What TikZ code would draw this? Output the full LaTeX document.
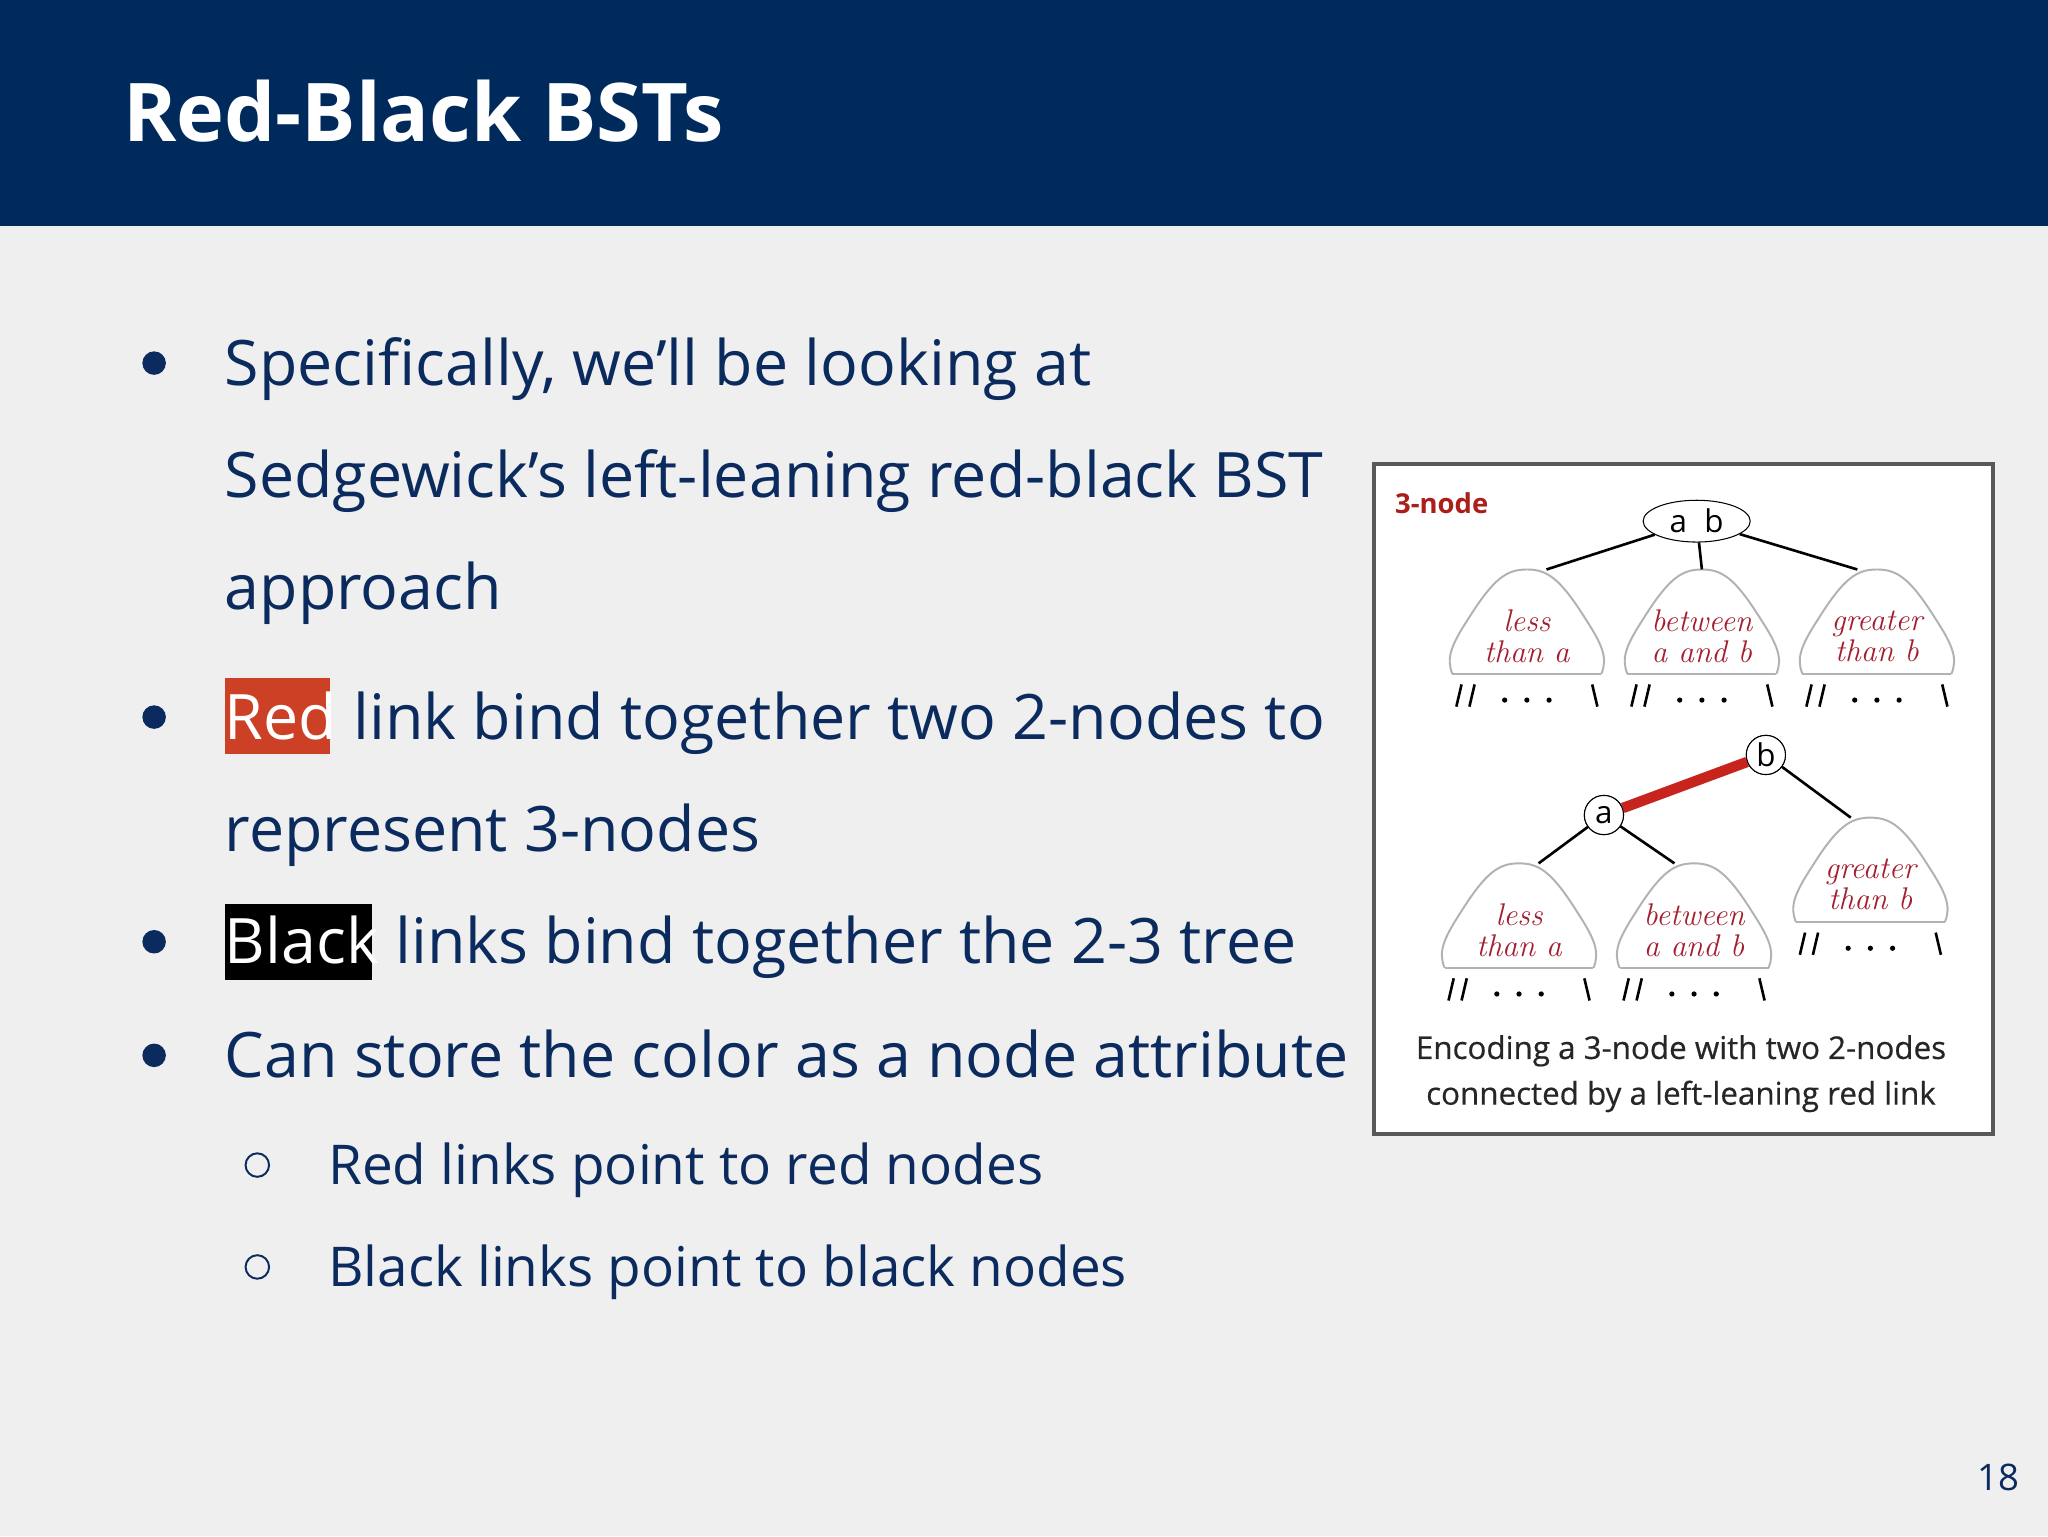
\documentclass[tikz,border=0pt]{standalone}
\usepackage{fontspec}
\usetikzlibrary{shapes.geometric}
\setmainfont{Open Sans}
\newfontfamily\serif{Latin Modern Roman}
\definecolor{navy}{HTML}{002A5C}
\definecolor{txt}{HTML}{0B2B5E}
\definecolor{bg}{HTML}{EFEFEF}
\definecolor{hred}{HTML}{CC4125}
\definecolor{dred}{HTML}{A31F2F}
\definecolor{lred}{HTML}{C8241E}
\tikzset{x=1pt,y=-1pt,
 body/.style={anchor=base west,inner sep=0,text=txt,font=\fontsize{48}{50}\selectfont},
 sub/.style={anchor=base west,inner sep=0,text=txt,font=\fontsize{42}{44}\selectfont},
 blab/.style={align=center,text=dred,font=\serif\itshape\fontsize{24}{24}\selectfont},
 kn/.style={draw,thick,fill=white,inner sep=2pt,font=\fontsize{24}{24}\selectfont},
 edge/.style={line width=2pt}}
\newcommand{\blob}[4]{% name, x, y, label
 \fill[white] (#2-57,#3+32) .. controls (#2-62,#3+20) and (#2-58,#3+10) .. (#2-45,#3-10) .. controls (#2-25,#3-42) and (#2-15,#3-48) .. (#2,#3-48) .. controls (#2+15,#3-48) and (#2+25,#3-42) .. (#2+45,#3-10) .. controls (#2+58,#3+10) and (#2+62,#3+20) .. (#2+57,#3+32) -- cycle;
 \draw[gray!60,line width=1.5pt] (#2-57,#3+32) .. controls (#2-62,#3+20) and (#2-58,#3+10) .. (#2-45,#3-10) .. controls (#2-25,#3-42) and (#2-15,#3-48) .. (#2,#3-48) .. controls (#2+15,#3-48) and (#2+25,#3-42) .. (#2+45,#3-10) .. controls (#2+58,#3+10) and (#2+62,#3+20) .. (#2+57,#3+32);
 \draw[gray!60,line width=1.5pt] (#2-57,#3+32) -- (#2+57,#3+32);
 \coordinate (#1) at (#2,#3-48);
 \node[blab] at (#2,#3+3) {#4};
 \draw[line width=2pt] (#2-50,#3+40) -- (#2-54,#3+57) (#2-40,#3+40) -- (#2-44,#3+57) (#2+50,#3+40) -- (#2+54,#3+57);
 \foreach \d in {-17,0,17} \fill (#2+\d,#3+52) circle (2pt);
}
\begin{document}
\begin{tikzpicture}
\fill[bg] (0,0) rectangle (1568,1176);
\fill[navy] (0,0) rectangle (1568,173);
\node[anchor=base west,inner sep=0,text=white,font=\bfseries\fontsize{62}{64}\selectfont] (title) at (94,108) {Red-Black BSTs};
% bullets
\foreach \yy in {278,549,721,808} \fill[txt] (118,\yy) circle (9);
\foreach \yy in {892,970} \draw[txt,line width=1.5pt] (197,\yy) circle (9);
\fill[hred] (172,519) rectangle (253,577);
\fill[black] (172,692) rectangle (285,750);
\node[body] (l1) at (172,295) {Specifically, we'll be looking at};
\node[body] (l2) at (172,381) {Sedgewick's left-leaning red-black BST};
\node[body] (l3) at (172,467) {approach};
\node[body] (l4) at (172,566) {\textcolor{white}{Red} link bind together two 2-nodes to};
\node[body] (l5) at (172,652) {represent 3-nodes};
\node[body] (l6) at (172,738) {\textcolor{white}{Black} links bind together the 2-3 tree};
\node[body] (l7) at (172,825) {Can store the color as a node attribute};
\node[sub] (s1) at (251,907) {Red links point to red nodes};
\node[sub] (s2) at (251,985) {Black links point to black nodes};
\node[anchor=base east,inner sep=0,text=txt,font=\fontsize{28}{28}\selectfont] (pg) at (1546,1141) {18};
% figure
\draw[gray!70!black,line width=3pt,fill=white] (1052,355) rectangle (1526,868);
\node[anchor=base west,inner sep=0,text=lred!85!black,font=\bfseries\fontsize{21}{21}\selectfont] (lab) at (1068,393) {3-node};
\blob{t1}{1169}{484}{less\\than a}
\blob{t2}{1303}{484}{between\\a and b}
\blob{t3}{1437}{484}{greater\\than b}
\node[kn,ellipse,minimum width=82,minimum height=32,inner sep=0] (ab) at (1299,399) {a\;\;b};
\draw[edge] (ab) -- ([xshift=15]t1);
\draw[edge] (ab) -- (t2);
\draw[edge] (ab) -- ([xshift=-15]t3);
\blob{u1}{1163}{709}{less\\than a}
\blob{u2}{1297}{709}{between\\a and b}
\blob{u3}{1432}{674}{greater\\than b}
\node[kn,circle,minimum size=30,inner sep=0] (b) at (1352,578) {b};
\node[kn,circle,minimum size=30,inner sep=0] (a) at (1228,624) {a};
\draw[lred,line width=8pt] (a) -- (b);
\draw[edge] (b) -- ([xshift=-15]u3);
\draw[edge] (a) -- ([xshift=15]u1);
\draw[edge] (a) -- ([xshift=-15]u2);
\node[kn,circle,minimum size=30,inner sep=0] at (1352,578) {b};
\node[kn,circle,minimum size=30,inner sep=0] at (1228,624) {a};
\node[align=center,text=black!85,font=\fontsize{24}{35}\selectfont\addfontfeature{FakeBold=0.5}] (cap) at (1287,822) {Encoding a 3-node with two 2-nodes\\connected by a left-leaning red link};
\end{tikzpicture}
\end{document}
